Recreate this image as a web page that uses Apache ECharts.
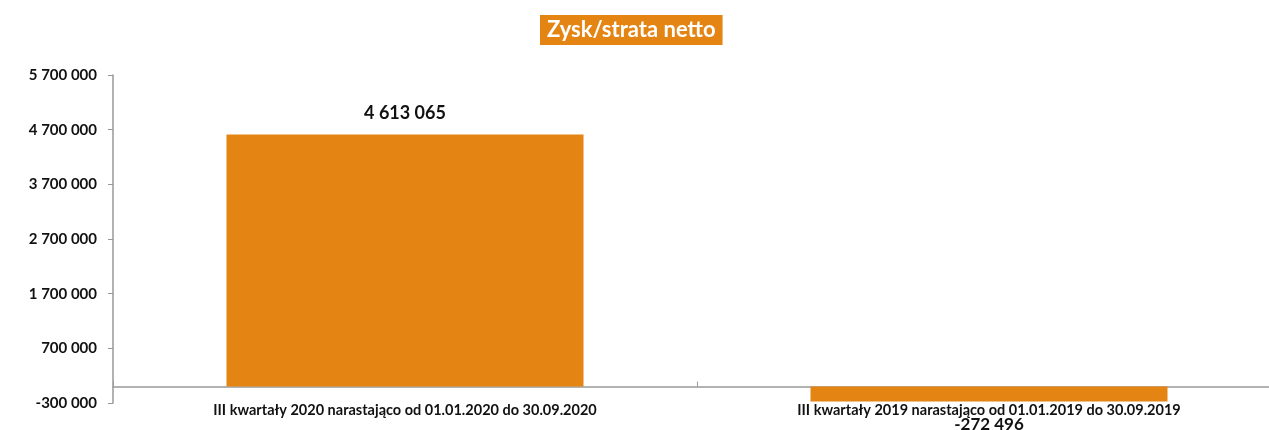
<!DOCTYPE html>
<html lang="pl">
<head>
	<meta charset="utf-8">
	<title>Zysk/strata netto</title>
	<script src="https://cdn.jsdelivr.net/npm/echarts@6/dist/echarts.min.js"></script>
	<style>
		html, body { margin: 0; padding: 0; background: #fff; }
		#chart { width: 1269px; height: 430px; }
	</style>
</head>
<body>
<div id="chart"></div>
<script>
var categories = ['III kwartały 2020 narastająco od 01.01.2020 do 30.09.2020', 'III kwartały 2019 narastająco od 01.01.2019 do 30.09.2019'];
var values = [4613065, -272496];
var yMin = -300000, yMax = 5700000, yStep = 1000000;

function fmt(v) {
	var s = String(Math.abs(v)).replace(/\B(?=(\d{3})+(?!\d))/g, ' ');
	return (v < 0 ? '-' : '') + s;
}

var font = 'Lato, "Open Sans", sans-serif';
var orange = '#E48413';

echarts.init(document.getElementById('chart')).setOption({
	animation: false,
	title: {
		text: 'Zysk/strata netto',
		left: 540,
		top: 15,
		backgroundColor: orange,
		padding: [4, 7, 4, 7],
		textStyle: { color: '#fff', fontFamily: font, fontWeight: 'bold', fontSize: 22 }
	},
	grid: { left: 113, width: 1168, top: 75, bottom: 27, outerBoundsMode: 'none' },
	xAxis: [{
		type: 'category',
		data: categories,
		position: 'bottom',
		axisLine: { show: false, onZero: false },
		axisTick: { show: false },
		axisLabel: { color: '#111', fontFamily: font, fontWeight: 'bold', fontSize: 14.5, margin: 0, verticalAlign: 'top', interval: 0, padding: [0, 0, 0, 0] }
	}, {
		type: 'category',
		data: categories,
		axisLine: { show: true, onZero: true, lineStyle: { color: '#999', width: 1.5 } },
		axisTick: { show: true, length: 5, inside: false, lineStyle: { color: '#999' } },
		axisLabel: { show: false }
	}],
	yAxis: {
		type: 'value',
		min: yMin,
		max: yMax,
		interval: yStep,
		axisLine: { show: true, lineStyle: { color: '#999', width: 1.5 } },
		axisTick: { show: true, length: 5, lineStyle: { color: '#999' } },
		splitLine: { show: false },
		axisLabel: { color: '#111', fontFamily: font, fontWeight: 'bold', fontSize: 15, margin: 16, formatter: fmt }
	},
	series: [{
		type: 'bar',
		xAxisIndex: 1,
		barWidth: 357,
		data: values.map(function (v) {
			return {
				value: v,
				label: v < 0
					? { position: 'bottom', distance: 15, fontSize: 17 }
					: { position: 'top', distance: 12 }
			};
		}),
		itemStyle: { color: orange },
		label: {
			show: true,
			color: '#111',
			fontFamily: font,
			fontWeight: 'bold',
			fontSize: 18,
			formatter: function (p) { return fmt(p.value); }
		}
	}]
});
</script>
</body>
</html>
